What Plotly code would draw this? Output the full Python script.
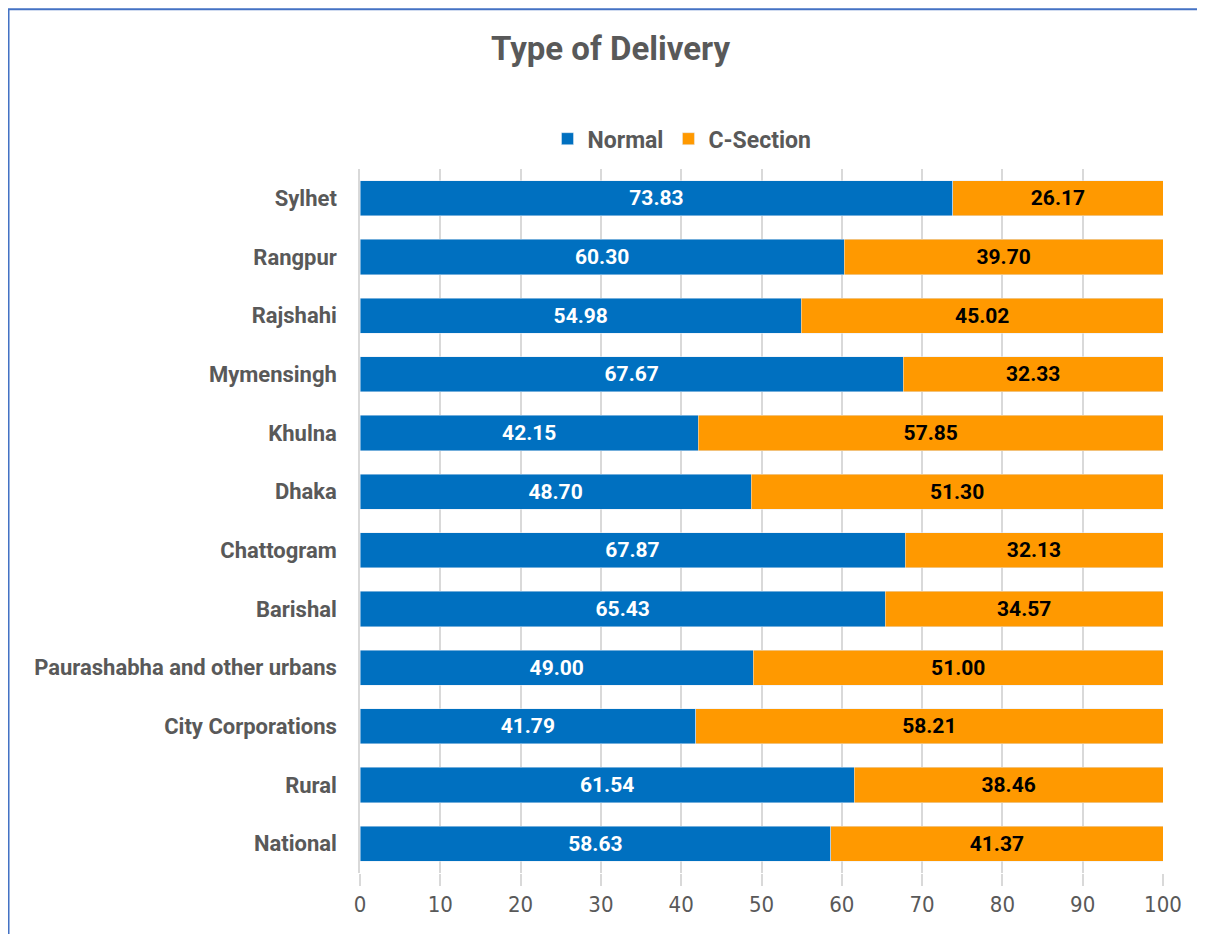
import plotly.graph_objects as go

categories = [
    "National", "Rural", "City Corporations", "Paurashabha and other urbans",
    "Barishal", "Chattogram", "Dhaka", "Khulna", "Mymensingh", "Rajshahi",
    "Rangpur", "Sylhet",
]
normal = [58.63, 61.54, 41.79, 49.00, 65.43, 67.87, 48.70, 42.15, 67.67, 54.98, 60.30, 73.83]
c_section = [41.37, 38.46, 58.21, 51.00, 34.57, 32.13, 51.30, 57.85, 32.33, 45.02, 39.70, 26.17]
x_ticks = [0, 10, 20, 30, 40, 50, 60, 70, 80, 90, 100]

BLUE = "#0070C0"
ORANGE = "#FF9900"
GREY = "#595959"
FONT = "Roboto"
NARROW = "Liberation Sans Narrow, DejaVu Sans Condensed, Roboto"

fig = go.Figure()
fig.add_trace(go.Bar(
    name="Normal", y=categories, x=normal, orientation="h",
    marker_color=BLUE, text=[f"{v:.2f}" for v in normal],
    textposition="inside", insidetextanchor="middle",
    textfont=dict(color="white", size=21, family=FONT, weight="bold"),
))
fig.add_trace(go.Bar(
    name="C-Section", y=categories, x=c_section, orientation="h",
    marker_color=ORANGE, text=[f"{v:.2f}" for v in c_section],
    textposition="inside", insidetextanchor="middle",
    textfont=dict(color="black", size=21, family=FONT, weight="bold"),
))

fig.update_layout(
    barmode="stack",
    bargap=0.4,
    width=1205, height=934,
    margin=dict(l=352, r=50, t=161, b=69),
    plot_bgcolor="white", paper_bgcolor="white",
    font=dict(family=FONT, color=GREY),
    title=dict(text="<b>Type of Delivery</b>", x=0.5, xanchor="center",
               y=0.957, yanchor="middle", font=dict(size=33, color=GREY)),
    legend=dict(orientation="h", x=0.401, xanchor="center", y=1.043, yanchor="middle",
                font=dict(size=23, color=GREY, weight="bold"), traceorder="normal",
                itemwidth=30),
    uniformtext=dict(minsize=8, mode="show"),
)
fig.update_xaxes(
    range=[0, 100], tickvals=x_ticks, showgrid=True, gridcolor="#D9D9D9", gridwidth=1.5,
    ticks="outside", ticklen=12, tickcolor="#D9D9D9", tickwidth=1.5,
    tickfont=dict(size=22, family=NARROW, color=GREY), zeroline=False, showline=False,
)
fig.update_yaxes(
    showline=True, linecolor="#D9D9D9", linewidth=1.5, ticks="",
    tickfont=dict(size=22, family=FONT, color=GREY, weight="bold"), ticklabelstandoff=17,
)
# outer border of the chart area
fig.add_shape(type="rect", xref="paper", yref="paper",
              x0=-0.4377, x1=1.2, y0=-0.3, y1=1.227,
              line=dict(color="#4472C4", width=2), layer="above")

fig.write_html("out.html")
